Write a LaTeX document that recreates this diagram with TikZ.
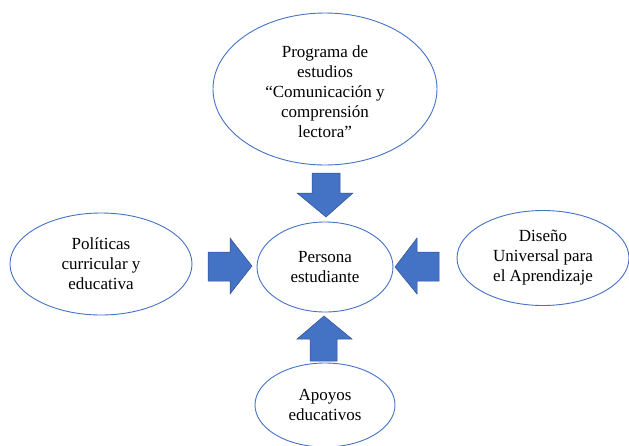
\documentclass[tikz,border=0pt]{standalone}
\usepackage{fontspec}
\setmainfont{Liberation Serif}
\usetikzlibrary{shapes.geometric}
\definecolor{ellline}{RGB}{68,114,196}
\definecolor{arrfill}{RGB}{68,114,196}
\definecolor{arrline}{RGB}{47,82,143}
\begin{document}
\begin{tikzpicture}[x=1pt,y=-1pt,
  oval/.style={draw=ellline, line width=0.9pt, ellipse, inner sep=0pt, align=center,
    font=\fontsize{17}{20}\selectfont},
  blockarrow/.style={fill=arrfill, draw=arrline, line width=0.5pt, line join=miter}]
\useasboundingbox (0,0) rectangle (629,445);
\node[oval, minimum width=224pt, minimum height=152pt] (prog) at (325,89) {};
\node[align=center, font=\fontsize{17}{20}\selectfont, inner sep=0pt] (progtext) at (325,92)
  {Programa de\\estudios\\``Comunicación y\\comprensión\\lectora''};
\node[oval, minimum width=136pt, minimum height=90pt] (pers) at (325,267)
  {Persona\\estudiante};
\node[oval, minimum width=182pt, minimum height=102pt] (pol) at (101,264)
  {Políticas\\curricular y\\educativa};
\node[oval, minimum width=172pt, minimum height=95pt] (dua) at (543,258)
  {Diseño\\Universal para\\el Aprendizaje};
\node[oval, minimum width=140pt, minimum height=84pt] (apo) at (325,405)
  {Apoyos\\educativos};
% block arrows
\draw[blockarrow] (312,173) -- (340,173) -- (340,193) -- (353,193) -- (326,217)
  -- (297,193) -- (312,193) -- cycle;
\draw[blockarrow] (208,252) -- (230,252) -- (230,238) -- (252,266) -- (230,294)
  -- (230,281) -- (208,281) -- cycle;
\draw[blockarrow] (439,252) -- (417,252) -- (417,238) -- (395,267) -- (417,294)
  -- (417,281) -- (439,281) -- cycle;
\draw[blockarrow] (310,361) -- (310,339) -- (297,339) -- (324,316) -- (352,339)
  -- (337,339) -- (337,361) -- cycle;
\end{tikzpicture}
\end{document}
